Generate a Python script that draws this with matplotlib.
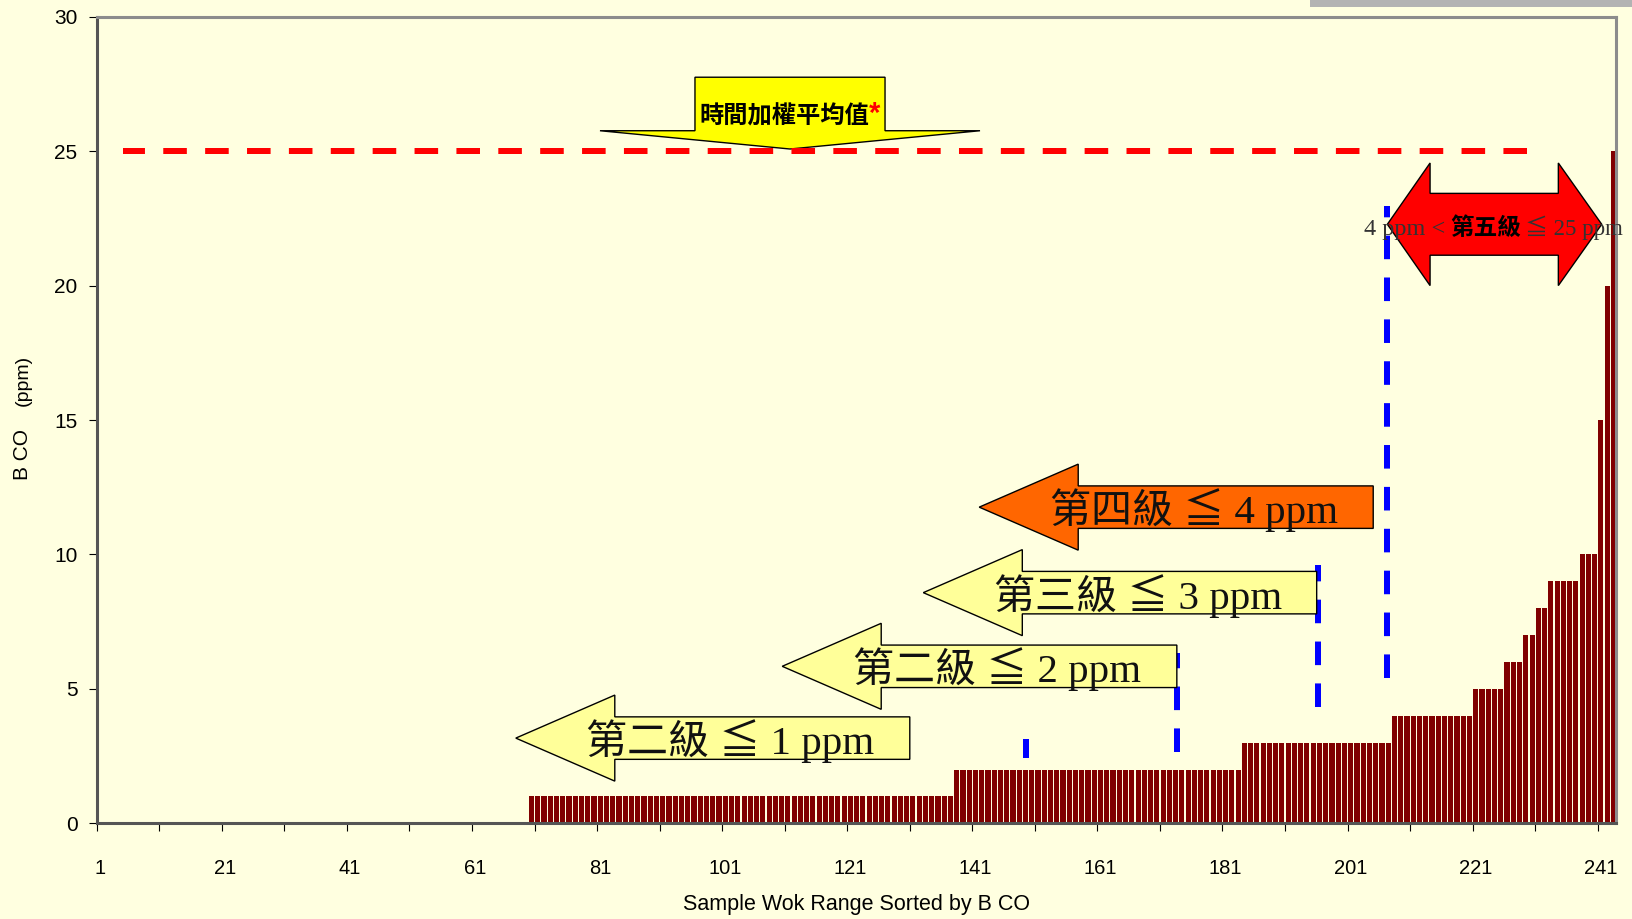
import numpy as np
import matplotlib
matplotlib.use("Agg")
import matplotlib.pyplot as plt
from matplotlib.patches import Polygon, Rectangle

# sorted B CO readings (ppm): each level and how many woks sit at it
bco_levels = [0, 1, 2, 3, 4, 5, 6, 7, 8, 9, 10, 15, 20, 25]
bco_counts = [69, 68, 46, 24, 13, 5, 3, 2, 2, 5, 3, 1, 1, 1]

twa_limit = 25  # 時間加權平均值
x_tick_labels = [1, 21, 41, 61, 81, 101, 121, 141, 161, 181, 201, 221, 241]
y_ticks = [0, 5, 10, 15, 20, 25, 30]

grade_labels = ["第二級 ≦ 1 ppm", "第二級 ≦ 2 ppm", "第三級 ≦ 3 ppm", "第四級 ≦ 4 ppm"]
grade_colors = ["#FFFF99", "#FFFF99", "#FFFF99", "#FF6600"]

BG = "#FFFFE0"
SERIF = ["Liberation Serif", "DejaVu Serif", "Noto Sans CJK TC"]
CJK = ["Noto Sans CJK TC"]

plt.rcParams["font.family"] = ["Liberation Sans", "Noto Sans CJK TC"]


def left_arrow(tip, right, yc, head_len=15.83, head_half=1.6, body_half=0.79):
    neck = tip + head_len
    return [(tip, yc), (neck, yc + head_half), (neck, yc + body_half),
            (right, yc + body_half), (right, yc - body_half),
            (neck, yc - body_half), (neck, yc - head_half)]


def main():
    values = np.repeat(bco_levels, bco_counts)
    samples = np.arange(1, len(values) + 1)

    fig = plt.figure(figsize=(16.32, 9.19), dpi=100, facecolor=BG)
    ax = fig.add_axes([0.0593, 0.1041, 0.9312, 0.8777], facecolor=BG)

    ax.bar(samples, values, width=0.82, color="#800000", linewidth=0, zorder=2)

    dash = dict(lw=4.32, linestyle=(0, (3.93, 3.05)), dash_capstyle="butt")

    # TWA limit, drawn right to left
    ax.plot([229.11, 4.74], [twa_limit, twa_limit], color="#FF0000", zorder=6, **dash)

    # grade boundaries (blue), drawn bottom up
    for x, y0, y1 in [(149.1, 2.44, 3.13), (173.24, 2.66, 6.32),
                      (195.73, 4.34, 9.61), (206.87, 5.40, 22.95)]:
        ax.plot([x, x], [y0, y1], color="#0000FF", zorder=3, **dash)

    # grade arrows
    tips = [67.5, 110.1, 132.66, 141.6]
    ends = [130.5, 173.2, 195.56, 204.6]
    mids = [3.17, 5.84, 8.58, 11.76]
    for label, color, tip, end, yc in zip(grade_labels, grade_colors, tips, ends, mids):
        ax.add_patch(Polygon(left_arrow(tip, end, yc), closed=True, facecolor=color,
                             edgecolor="black", lw=1.0, zorder=4))
        ax.text(tip + 11.3, yc - 0.6, label, ha="left", va="baseline",
                fontsize=29.5, family=SERIF, color="#111111", zorder=5)

    # double arrow for grade five
    yc = 22.28
    l_tip, l_neck, r_neck, r_tip = 206.86, 213.69, 234.2, 241.14
    hh, bh = 2.28, 1.15
    ax.add_patch(Polygon([(l_tip, yc), (l_neck, yc + hh), (l_neck, yc + bh), (r_neck, yc + bh),
                          (r_neck, yc + hh), (r_tip, yc), (r_neck, yc - hh), (r_neck, yc - bh),
                          (l_neck, yc - bh), (l_neck, yc - hh)], closed=True,
                         facecolor="#FF0000", edgecolor="black", lw=1.0, zorder=4))
    ax.text(216.08, 21.87, "4 ppm <", ha="right", va="baseline", fontsize=17.5,
            family=SERIF, color="#333333", zorder=7)
    ax.text(222.56, 21.87, "第五級", ha="center", va="baseline", fontsize=17,
            family=CJK, weight="bold", color="black", zorder=7)
    ax.text(228.9, 21.87, "≦ 25 ppm", ha="left", va="baseline", fontsize=16.5,
            family=SERIF, color="#333333", zorder=7)

    # down arrow pointing at the TWA line
    ax.add_patch(Polygon([(96.15, 27.75), (126.54, 27.75), (126.54, 25.76), (141.73, 25.76),
                          (111.35, 25.08), (80.96, 25.76), (96.15, 25.76)], closed=True,
                         facecolor="#FFFF00", edgecolor="black", lw=1.0, zorder=4))
    ax.text(110.43, 26.04, "時間加權平均值", ha="center", va="baseline", fontsize=17.5,
            family=CJK, weight="bold", color="black", zorder=7)
    ax.text(124.0, 26.1, "*", ha="left", va="baseline", fontsize=21, weight="bold",
            color="#FF0000", zorder=7)

    ax.set_xlim(0.5, len(values) + 0.5)
    ax.set_ylim(0, 30)

    ax.set_xticks(np.arange(0.5, 241, 10))
    ax.set_xticks(x_tick_labels, minor=True)
    ax.set_xticklabels([str(v) for v in x_tick_labels], minor=True)
    ax.tick_params(axis="x", which="major", length=5.8, width=0.8, color="black",
                   labelbottom=False)
    ax.tick_params(axis="x", which="minor", length=0, pad=26, labelsize=14.5)
    ax.set_yticks(y_ticks)
    ax.tick_params(axis="y", length=5.8, width=0.8, color="black", pad=8, labelsize=15)

    for side in ["left", "bottom"]:
        ax.spines[side].set_color("#555555")
        ax.spines[side].set_linewidth(2.2)
    for side in ["top", "right"]:
        ax.spines[side].set_color("#8c8c8c")
        ax.spines[side].set_linewidth(2.2)

    fig.text(23 / 1632, 1 - 455 / 919, "B CO", rotation=90, ha="center", va="center",
             fontsize=15)
    fig.text(23 / 1632, 1 - 380 / 919, "(ppm)", rotation=90, ha="center", va="center",
             fontsize=14)
    fig.text(856.5 / 1632, 1 - 904.5 / 919, "Sample Wok Range Sorted by B CO",
             ha="center", va="center", fontsize=15.5)

    fig.add_artist(Rectangle((1310 / 1632, 1 - 7.3 / 919), 1 - 1310 / 1632, 7.3 / 919,
                             transform=fig.transFigure, color="#b3b3b3", lw=0))

    fig.savefig("out.png", dpi=100, facecolor=BG)


if __name__ == "__main__":
    main()
